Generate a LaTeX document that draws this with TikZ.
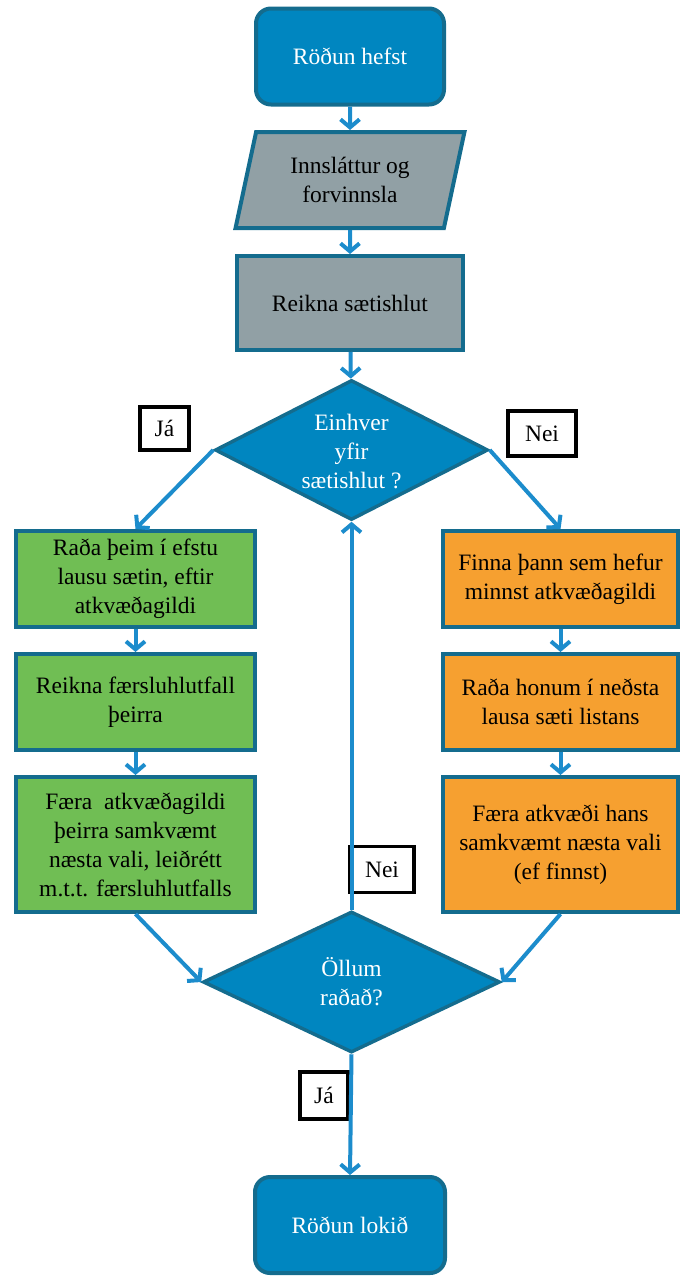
\documentclass[tikz,border=0pt]{standalone}
\usepackage{fontspec}
\setmainfont{Liberation Serif}
\usetikzlibrary{arrows.meta,shapes.geometric}
\definecolor{bluefill}{RGB}{0,134,192}
\definecolor{bord}{RGB}{20,108,142}
\definecolor{arrowc}{RGB}{28,140,204}
\definecolor{grayfill}{RGB}{145,160,165}
\definecolor{greenfill}{RGB}{112,190,84}
\definecolor{orangefill}{RGB}{246,160,48}
\newcommand{\fsz}{\fontsize{23.5}{29}\selectfont}
\tikzset{
  base/.style={draw=bord, line width=4pt, align=center, font=\fsz, inner sep=0pt},
  term/.style={base, fill=bluefill, text=white, rounded corners=15pt, minimum width=188pt, minimum height=96pt},
  procbox/.style={base, fill=grayfill, text=black, minimum width=226pt, minimum height=94pt},
  iobox/.style={base, fill=grayfill, text=black, trapezium, trapezium left angle=74, trapezium right angle=106, trapezium stretches=true, minimum width=229pt, minimum height=96pt},
  greenbox/.style={base, fill=greenfill, text=black, minimum width=239pt},
  orangebox/.style={base, fill=orangefill, text=black, minimum width=235pt},
  decision/.style={base, fill=bluefill, diamond, line width=3.5pt},
  dtext/.style={align=center, font=\fsz, text=white, inner sep=0pt},
  tag/.style={draw=black, line width=3.2pt, fill=white, font=\fsz, inner sep=0pt},
  arr/.style={draw=arrowc, line width=4pt, -{Straight Barb[length=8pt,width=19pt]}}
}
\begin{document}
\begin{tikzpicture}[x=1pt,y=-1pt]
\useasboundingbox (0,0) rectangle (680,1277);
\node[term] (start) at (350,56.5) {Röðun hefst};
\node[iobox] (inp) at (350,180) {Innsláttur og\\forvinnsla};
\node[procbox] (calc) at (350,303) {Reikna sætishlut};
\node[decision, minimum width=273pt, minimum height=140pt] (d1) at (351.5,450) {};
\node[dtext] (d1t) at (351.5,452) {Einhver\\yfir\\sætishlut ?};
\node[tag, minimum width=49pt, minimum height=43pt] (ja1) at (164.5,428.5) {Já};
\node[tag, minimum width=68pt, minimum height=45pt] (nei1) at (542,433.5) {Nei};

\node[greenbox, minimum height=96pt] (g1) at (135.5,579) {Raða þeim í efstu\\lausu sætin, eftir\\atkvæðagildi};
\node[greenbox, minimum height=96pt] (g2) at (135.5,702) {Reikna færsluhlutfall\\þeirra};
\node[greenbox, minimum height=135pt] (g3) at (135.5,844.5) {Færa~ atkvæðagildi\\þeirra samkvæmt\\næsta vali, leiðrétt\\m.t.t. færsluhlutfalls};

\node[orangebox, minimum height=96pt] (o1) at (560.5,579) {Finna þann sem hefur\\minnst atkvæðagildi};
\node[orangebox, minimum height=96pt] (o2) at (560.5,702) {Raða honum í neðsta\\lausa sæti listans};
\node[orangebox, minimum height=135pt] (o3) at (560.5,844.5) {Færa atkvæði hans\\samkvæmt næsta vali\\(ef finnst)};

\node[decision, minimum width=297pt, minimum height=141pt] (d2) at (351.5,982) {};
\node[dtext] (d2t) at (351.5,982) {Öllum\\raðað?};
\node[tag, minimum width=64pt, minimum height=46pt] (nei2) at (382,869.5) {Nei};
\node[tag, minimum width=48pt, minimum height=47pt] (ja2) at (324,1095.5) {Já};

\node[term, minimum width=190pt] (end) at (350,1225) {Röðun lokið};

\draw[arr] (start) -- (inp);
\draw[arr] (inp.south) -- (calc.north);
\draw[arr] (calc) -- (d1);
\draw[arr] (d1.west) -- (g1.north);
\draw[arr] (d1.east) -- (o1.north);
\draw[arr] (g1) -- (g2);
\draw[arr] (g2) -- (g3);
\draw[arr] (o1) -- (o2);
\draw[arr] (o2) -- (o3);
\draw[arr] (g3.south) -- (d2.west);
\draw[arr] (o3.south) -- (d2.east);
\draw[arr] (d2.north) -- (d1.south);
\draw[arr] (d2.south) -- (end.north);
\end{tikzpicture}
\end{document}
